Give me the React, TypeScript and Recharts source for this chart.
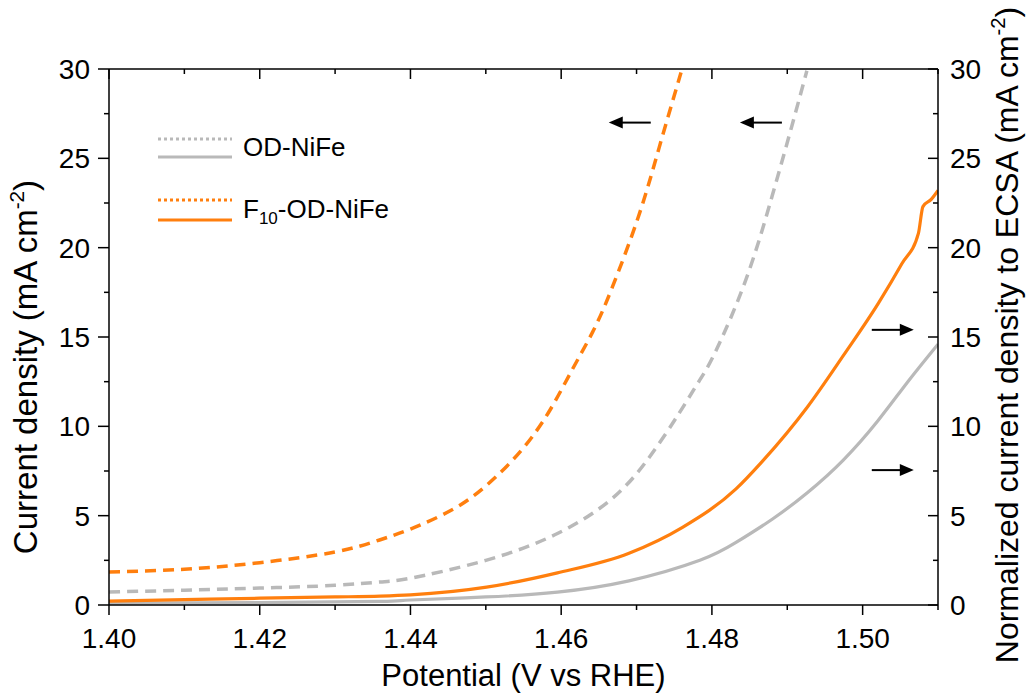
import { LineChart, Line, XAxis, YAxis, Legend, ReferenceDot } from "recharts";

const FONT = "'Liberation Sans', Arial, sans-serif";
const ORANGE = "#FF7F0E";
const GRAY = "#B9B9B9";

const xTicks = [1.4, 1.41, 1.42, 1.43, 1.44, 1.45, 1.46, 1.47, 1.48, 1.49, 1.5, 1.51];
const yTicks = [0, 2.5, 5, 7.5, 10, 12.5, 15, 17.5, 20, 22.5, 25, 27.5, 30];

// geometric current density (left axis), dashed
const odGeoX = [1.4, 1.41, 1.42, 1.43, 1.436, 1.44, 1.45, 1.4595, 1.4666, 1.4714, 1.4756, 1.4784, 1.4805, 1.4845, 1.488, 1.4906, 1.4926];
const odGeoY = [0.73, 0.83, 0.95, 1.1, 1.29, 1.5, 2.5, 4.0, 5.9, 8.1, 10.7, 12.6, 14.2, 18.2, 22.9, 26.8, 29.9];

const fGeoX = [1.4, 1.41, 1.42, 1.43, 1.4359, 1.44, 1.4454, 1.4501, 1.4548, 1.4585, 1.4615, 1.4642, 1.4668, 1.4703, 1.473, 1.4759];
const fGeoY = [1.85, 2.0, 2.37, 2.97, 3.64, 4.25, 5.3, 6.7, 8.7, 10.9, 13.2, 15.3, 17.8, 21.8, 25.6, 29.8];

// ECSA-normalized current density (right axis), solid
const odEcsaX = [1.4, 1.42, 1.436, 1.44, 1.45, 1.4595, 1.469, 1.4784, 1.4832, 1.488, 1.4927, 1.4974, 1.502, 1.506, 1.51];
const odEcsaY = [0.1, 0.13, 0.2, 0.28, 0.45, 0.72, 1.35, 2.5, 3.5, 4.8, 6.3, 8.1, 10.3, 12.5, 14.6];

const fEcsaX = [1.4, 1.41, 1.42, 1.43, 1.436, 1.44, 1.4501, 1.4595, 1.469, 1.4761, 1.4832, 1.4866, 1.4927, 1.4975, 1.5021, 1.5052, 1.5074, 1.508, 1.5091, 1.51];
const fEcsaY = [0.22, 0.3, 0.38, 0.45, 0.5, 0.57, 1.0, 1.8, 2.9, 4.35, 6.5, 8.0, 11.1, 14.0, 16.9, 19.1, 20.8, 22.3, 22.7, 23.2];

const zip = (xs: number[], ys: number[]) => xs.map((x, i) => ({ x, y: ys[i] }));

const isMajorX = (v: number) => Math.round(v * 100) % 2 === 0;
const isMajorY = (v: number) => v % 5 === 0;

const BottomTick = (props: any) => {
  const { x, y, payload } = props;
  const major = isMajorX(payload.value);
  return (
    <g>
      <line x1={x} x2={x} y1={y} y2={y + (major ? 10 : 5)} stroke="#000" strokeWidth={1.5} />
      {major && (
        <text x={x} y={y + 43} textAnchor="middle" fontSize={28} fontFamily={FONT} fill="#000">
          {payload.value.toFixed(2)}
        </text>
      )}
    </g>
  );
};

const TopTick = (props: any) => {
  const { x, y, payload } = props;
  const major = isMajorX(payload.value);
  return <line x1={x} x2={x} y1={y} y2={y + (major ? 10 : 5)} stroke="#000" strokeWidth={1.5} />;
};

const LeftTick = (props: any) => {
  const { x, y, payload } = props;
  const major = isMajorY(payload.value);
  return (
    <g>
      <line x1={x} x2={x - (major ? 11 : 5)} y1={y} y2={y} stroke="#000" strokeWidth={1.5} />
      {major && (
        <text x={x - 19} y={y + 10} textAnchor="end" fontSize={28} fontFamily={FONT} fill="#000">
          {payload.value}
        </text>
      )}
    </g>
  );
};

const RightTick = (props: any) => {
  const { x, y, payload } = props;
  const major = isMajorY(payload.value);
  return (
    <g>
      <line x1={x} x2={x - (major ? 10 : 5)} y1={y} y2={y} stroke="#000" strokeWidth={1.5} />
      {major && (
        <text x={x + 12} y={y + 10} textAnchor="start" fontSize={28} fontFamily={FONT} fill="#000">
          {payload.value}
        </text>
      )}
    </g>
  );
};

const XTitle = (props: any) => {
  const { viewBox } = props;
  const cx = viewBox.x + viewBox.width / 2;
  return (
    <text x={cx} y={viewBox.y + 81} textAnchor="middle" fontSize={31} fontFamily={FONT} fill="#000">
      Potential (V vs RHE)
    </text>
  );
};

const YTitle = (props: any) => {
  const { viewBox, text, offsetX, shiftY, size } = props;
  const cx = viewBox.x + offsetX;
  const cy = viewBox.y + viewBox.height / 2 + shiftY;
  return (
    <text
      x={cx}
      y={cy}
      transform={`rotate(-90, ${cx}, ${cy})`}
      textAnchor="middle"
      fontSize={size}
      fontFamily={FONT}
      fill="#000"
    >
      {text} (mA cm
      <tspan dy={-13} fontSize={size * 0.63}>-2</tspan>
      <tspan dy={13}>)</tspan>
    </text>
  );
};

const Arrow = (props: any) => {
  const { cx, cy, dir } = props;
  const s = dir === "left" ? -1 : 1;
  return (
    <g>
      <line x1={cx - s * 21} x2={cx + s * 8} y1={cy} y2={cy} stroke="#000" strokeWidth={2} />
      <polygon
        points={`${cx + s * 21},${cy} ${cx + s * 7},${cy - 6} ${cx + s * 7},${cy + 6}`}
        fill="#000"
      />
    </g>
  );
};

const LegendBox = () => (
  <svg width={260} height={110} style={{ overflow: "visible" }}>
    <line x1={8} x2={82} y1={14} y2={14} stroke={GRAY} strokeWidth={3} strokeDasharray="3 3" />
    <line x1={8} x2={82} y1={32} y2={32} stroke={GRAY} strokeWidth={3} />
    <text x={93} y={31} fontSize={26} fontFamily={FONT} fill="#000">OD-NiFe</text>
    <line x1={8} x2={82} y1={75} y2={75} stroke={ORANGE} strokeWidth={3} strokeDasharray="3 3" />
    <line x1={8} x2={82} y1={95} y2={95} stroke={ORANGE} strokeWidth={3} />
    <text x={93} y={93} fontSize={26} fontFamily={FONT} fill="#000">
      F<tspan dy={6} fontSize={17}>10</tspan>
      <tspan dy={-6}>-OD-NiFe</tspan>
    </text>
  </svg>
);

export default function App() {
  return (
    <div style={{ position: "absolute", left: 0, top: 0, background: "#fff" }}>
      <LineChart width={1031} height={695} margin={{ top: 68, right: 13, bottom: 30, left: 9 }}>
        <XAxis
          xAxisId="bottom"
          dataKey="x"
          type="number"
          domain={[1.4, 1.51]}
          ticks={xTicks}
          interval={0}
          allowDataOverflow
          height={60}
          tickSize={0}
          tickMargin={0}
          tickLine={false}
          axisLine={{ stroke: "#000", strokeWidth: 1.5 }}
          tick={<BottomTick />}
          label={<XTitle />}
        />
        <XAxis
          xAxisId="top"
          orientation="top"
          dataKey="x"
          type="number"
          domain={[1.4, 1.51]}
          ticks={xTicks}
          interval={0}
          allowDataOverflow
          height={1}
          tickSize={0}
          tickMargin={0}
          tickLine={false}
          axisLine={{ stroke: "#000", strokeWidth: 1.5 }}
          tick={<TopTick />}
        />
        <YAxis
          yAxisId="left"
          type="number"
          domain={[0, 30]}
          ticks={yTicks}
          interval={0}
          allowDataOverflow
          width={100}
          tickSize={0}
          tickMargin={0}
          tickLine={false}
          axisLine={{ stroke: "#000", strokeWidth: 1.5 }}
          tick={<LeftTick />}
          label={<YTitle text="Current density" offsetX={28} shiftY={30} size={33} />}
        />
        <YAxis
          yAxisId="right"
          orientation="right"
          type="number"
          domain={[0, 30]}
          ticks={yTicks}
          interval={0}
          allowDataOverflow
          width={80}
          tickSize={0}
          tickMargin={0}
          tickLine={false}
          axisLine={{ stroke: "#000", strokeWidth: 1.5 }}
          tick={<RightTick />}
          label={<YTitle text="Normalized current density to ECSA" offsetX={80} shiftY={-2} size={32} />}
        />
        <Legend
          layout="horizontal"
          verticalAlign="middle"
          align="center"
          wrapperStyle={{ left: 150, top: 125, width: 260, height: 110 }}
          content={<LegendBox />}
        />
        <Line
          xAxisId="bottom"
          yAxisId="left"
          data={zip(odGeoX, odGeoY)}
          dataKey="y"
          type="natural"
          stroke={GRAY}
          strokeWidth={3.5}
          strokeDasharray="11 7"
          dot={false}
          isAnimationActive={false}
        />
        <Line
          xAxisId="bottom"
          yAxisId="left"
          data={zip(fGeoX, fGeoY)}
          dataKey="y"
          type="natural"
          stroke={ORANGE}
          strokeWidth={3.5}
          strokeDasharray="11 7"
          dot={false}
          isAnimationActive={false}
        />
        <Line
          xAxisId="bottom"
          yAxisId="right"
          data={zip(odEcsaX, odEcsaY)}
          dataKey="y"
          type="natural"
          stroke={GRAY}
          strokeWidth={3.2}
          dot={false}
          isAnimationActive={false}
        />
        <Line
          xAxisId="bottom"
          yAxisId="right"
          data={zip(fEcsaX, fEcsaY)}
          dataKey="y"
          type="monotone"
          stroke={ORANGE}
          strokeWidth={3.2}
          dot={false}
          isAnimationActive={false}
        />
        <ReferenceDot xAxisId="bottom" yAxisId="left" x={1.4691} y={27.0} shape={<Arrow dir="left" />} />
        <ReferenceDot xAxisId="bottom" yAxisId="left" x={1.4865} y={27.0} shape={<Arrow dir="left" />} />
        <ReferenceDot xAxisId="bottom" yAxisId="right" x={1.504} y={15.4} shape={<Arrow dir="right" />} />
        <ReferenceDot xAxisId="bottom" yAxisId="right" x={1.504} y={7.55} shape={<Arrow dir="right" />} />
      </LineChart>
    </div>
  );
}
